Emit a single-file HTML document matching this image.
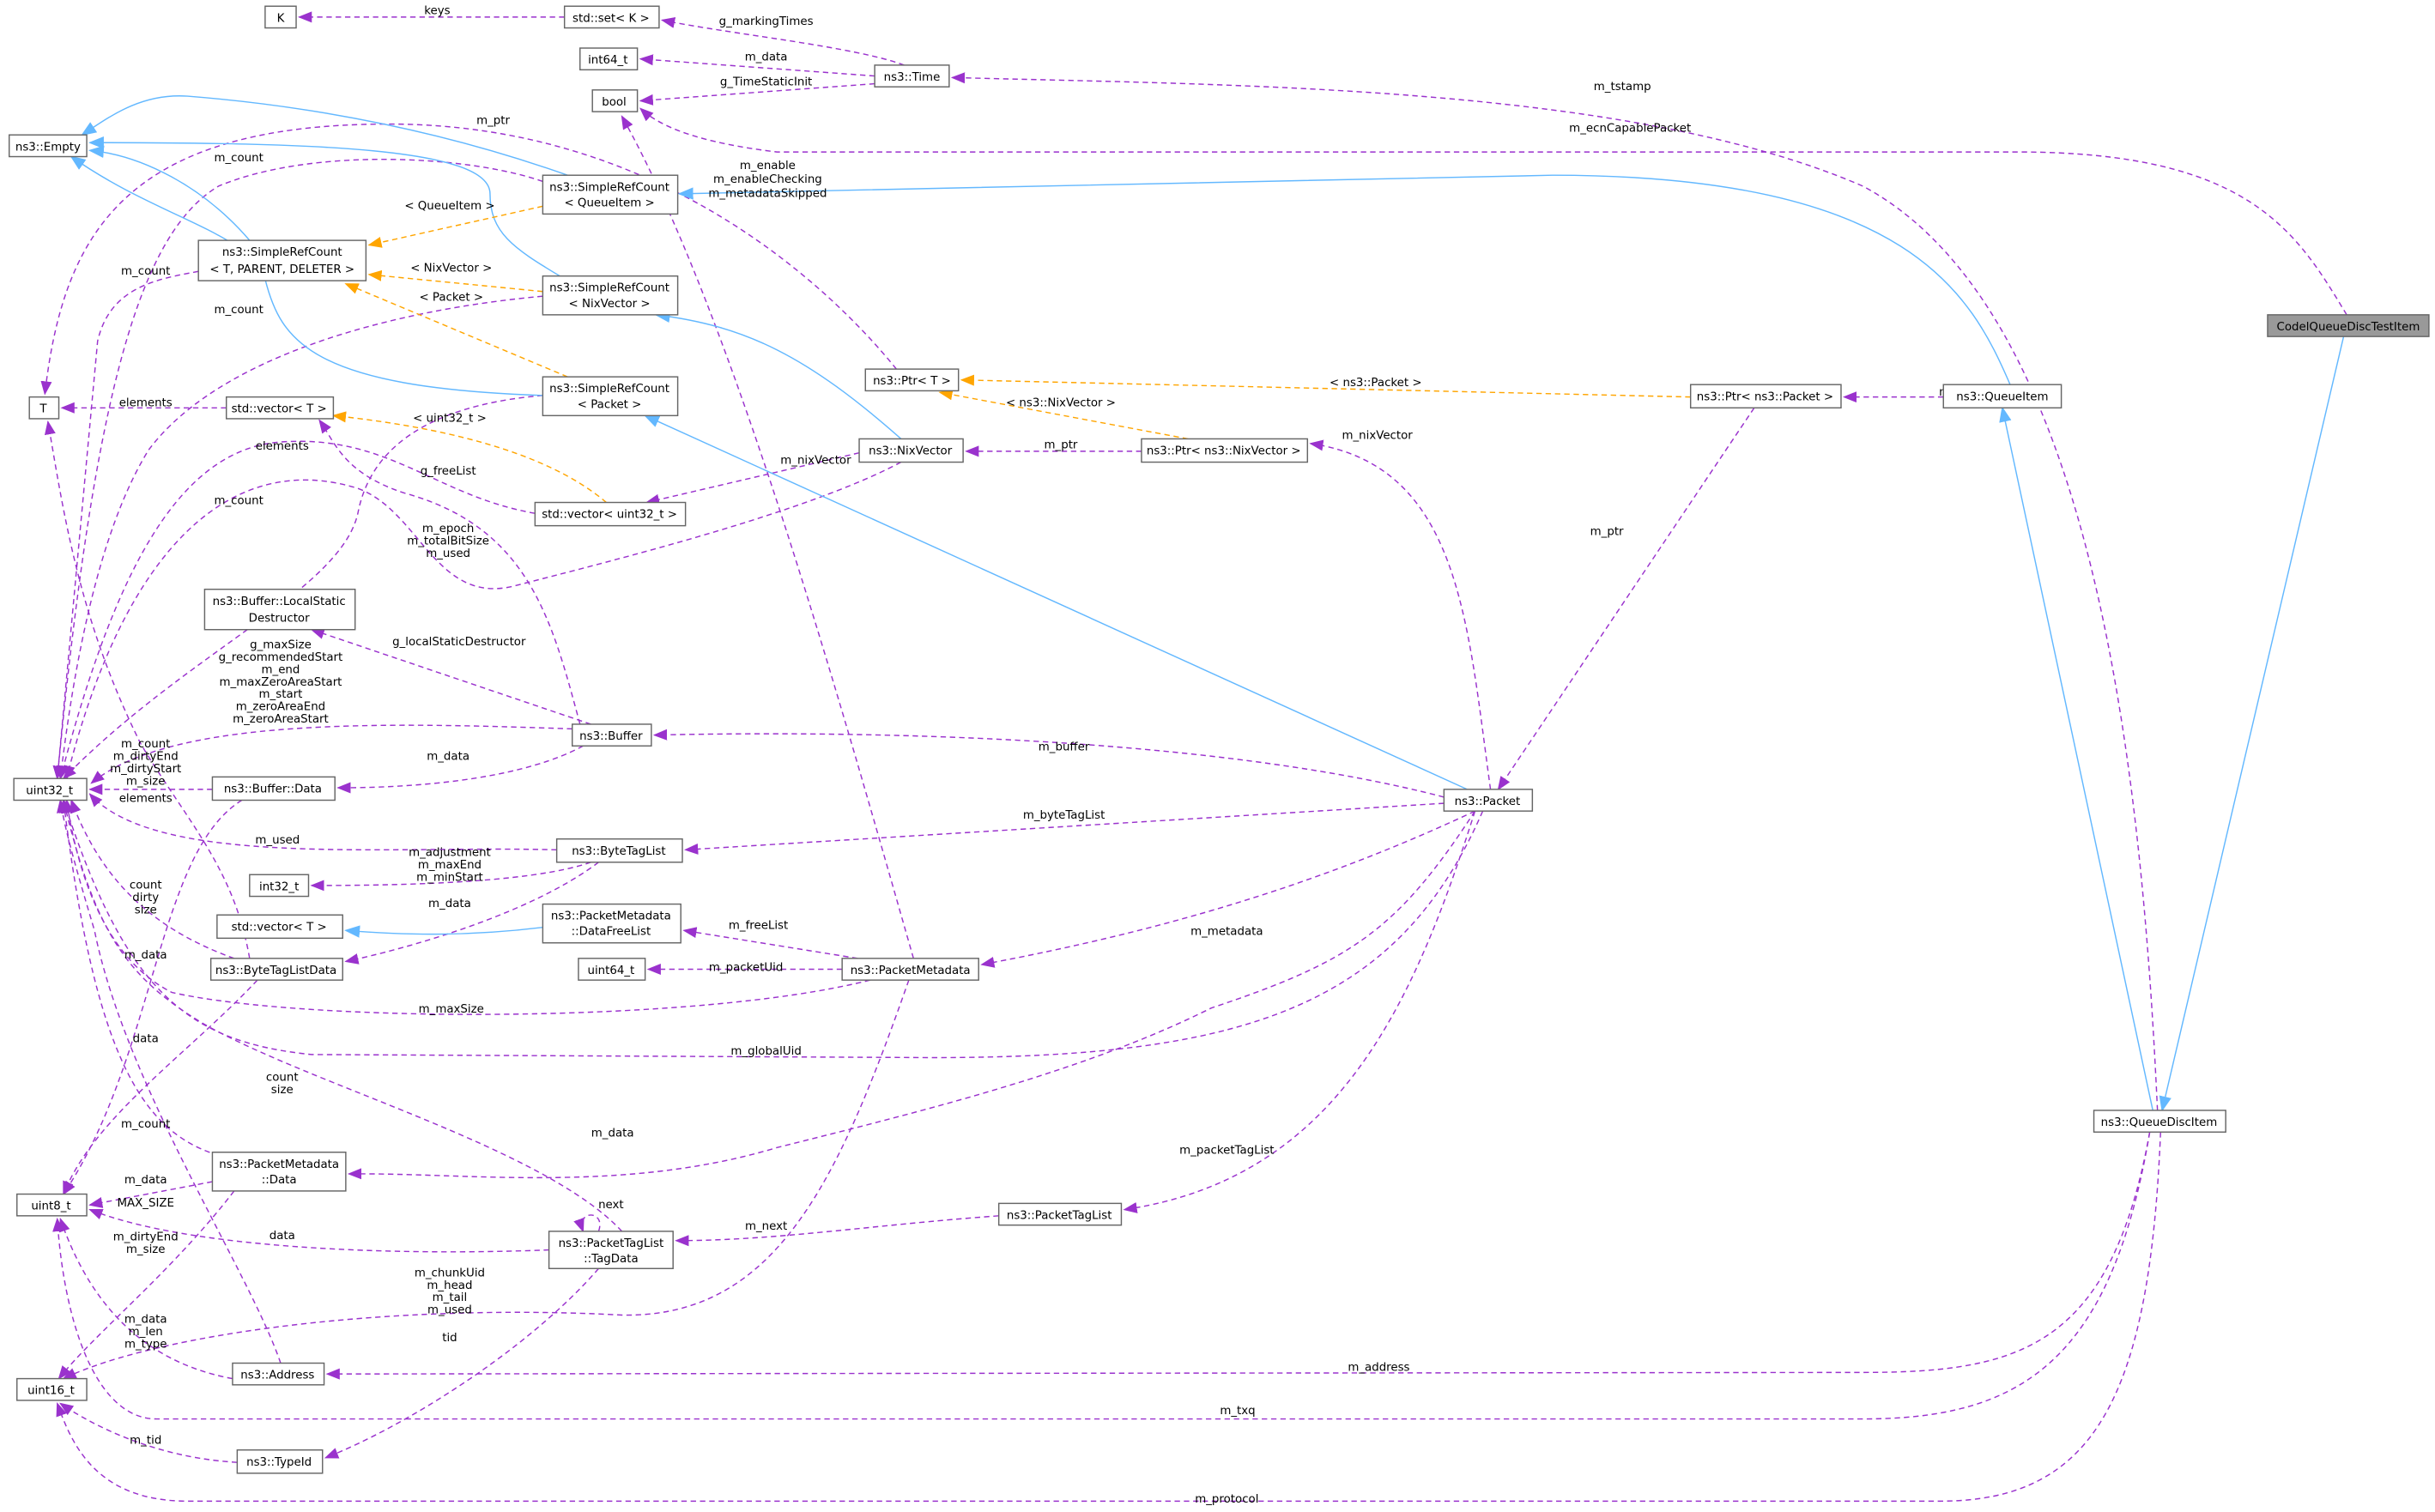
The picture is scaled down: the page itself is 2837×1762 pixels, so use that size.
<!DOCTYPE html>
<html><head><meta charset="utf-8"><style>
html,body{margin:0;padding:0;background:#fff;}
svg{display:block;}
text{font-family:"DejaVu Sans","Liberation Sans",sans-serif;font-size:7.4px;fill:#000;}
.n rect{fill:#fff;stroke:#666;stroke-width:0.8;}
.p{fill:none;stroke:#9a32cd;stroke-width:0.8;stroke-dasharray:3.5,2.5;}
.b{fill:none;stroke:#63b8ff;stroke-width:0.8;}
.o{fill:none;stroke:#ffa500;stroke-width:0.8;stroke-dasharray:3.5,2.5;}
</style></head><body>
<svg width="2837" height="1762" viewBox="0 0 1568 975" xmlns="http://www.w3.org/2000/svg">
<defs>
<marker id="mp" viewBox="0 0 10 10" refX="9" refY="5" markerWidth="9" markerHeight="9" orient="auto" markerUnits="userSpaceOnUse"><path d="M0,1 L10,5 L0,9 z" fill="#9a32cd"/></marker>
<marker id="mb" viewBox="0 0 10 10" refX="9" refY="5" markerWidth="10" markerHeight="10" orient="auto" markerUnits="userSpaceOnUse"><path d="M0,1 L10,5 L0,9 z" fill="#63b8ff"/></marker>
<marker id="mo" viewBox="0 0 10 10" refX="9" refY="5" markerWidth="9" markerHeight="9" orient="auto" markerUnits="userSpaceOnUse"><path d="M0,1 L10,5 L0,9 z" fill="#ffa500"/></marker>
</defs>

<g marker-end="url(#mp)">
<path class="p" d="M363,11 L192,11"/>
<path class="p" d="M582,42 C550,30 470,22 426,13"/>
<path class="p" d="M563,49 L412,38"/>
<path class="p" d="M563,54 L412,65"/>
<path class="p" d="M1512,203 C1480,150 1450,98 1300,98 L500,98 C450,92 425,82 412,70"/>
<path class="p" d="M1252,256 L1188,256"/>
<path class="p" d="M1130,263 L965,509"/>
<path class="p" d="M735,291 L622,291"/>
<path class="p" d="M960,509 C945,400 940,300 844,286"/>
<path class="p" d="M577,238 C530,180 420,80 250,80 C80,80 40,150 28,254"/>
<path class="p" d="M588,618 C540,450 470,200 400,75"/>
<path class="p" d="M553,292 L416,324"/>
<path class="p" d="M145,263 L39,263"/>
<path class="p" d="M127,175 C100,180 70,185 62,220 L36,502"/>
<path class="p" d="M349,117 C300,100 200,95 140,120 C90,150 60,250 36,502"/>
<path class="p" d="M349,191 C250,200 140,230 95,290 C70,330 50,400 38,502"/>
<path class="p" d="M349,255 C290,260 240,280 230,330 C220,380 120,420 40,502"/>
<path class="p" d="M344,331 C280,320 250,280 180,285 C110,290 70,380 38,502"/>
<path class="p" d="M580,298 C520,330 400,360 330,378 C280,390 270,330 230,315 C150,290 80,350 42,502"/>
<path class="p" d="M373,467 C355,400 340,340 260,318 C220,305 215,285 205,271"/>
<path class="p" d="M380,467 L200,406"/>
<path class="p" d="M368,470 C250,466 110,462 58,505"/>
<path class="p" d="M375,481 C340,500 280,508 217,508"/>
<path class="p" d="M136,509 L57,509"/>
<path class="p" d="M155,516 C100,550 100,680 40,770"/>
<path class="p" d="M930,514 C800,480 600,470 421,474"/>
<path class="p" d="M930,518 L441,548"/>
<path class="p" d="M358,548 C250,545 100,560 57,512"/>
<path class="p" d="M380,556 C340,570 250,571 200,571"/>
<path class="p" d="M385,556 C340,590 260,612 222,620"/>
<path class="p" d="M150,618 C100,600 65,570 45,516"/>
<path class="p" d="M165,632 C120,680 60,720 40,770"/>
<path class="p" d="M950,523 C850,570 750,600 632,622"/>
<path class="p" d="M552,618 L440,600"/>
<path class="p" d="M542,625 L417,625"/>
<path class="p" d="M560,632 C450,660 200,660 110,640 C70,620 50,570 42,516"/>
<path class="p" d="M955,523 C900,650 800,682 600,682 L200,680 C120,672 80,640 40,516"/>
<path class="p" d="M950,523 C900,600 870,620 780,650 C700,690 600,715 500,740 C400,770 300,756 224,757"/>
<path class="p" d="M140,745 C90,730 60,680 40,516"/>
<path class="p" d="M136,762 L57,777"/>
<path class="p" d="M150,768 C110,820 60,860 37,889"/>
<path class="p" d="M400,794 C350,740 200,700 130,660 C80,630 60,600 40,516"/>
<path class="p" d="M385,794 C390,780 370,780 375,794"/>
<path class="p" d="M643,784 C560,790 500,800 435,800"/>
<path class="p" d="M353,806 C250,810 120,805 57,780"/>
<path class="p" d="M385,818 C340,870 260,920 209,940"/>
<path class="p" d="M950,523 C910,650 860,760 724,780"/>
<path class="p" d="M585,632 C540,760 500,850 400,848 C250,840 100,860 40,889"/>
<path class="p" d="M149,889 C100,880 60,850 38,786"/>
<path class="p" d="M180,879 C160,820 80,700 60,600 C45,550 40,530 38,516"/>
<path class="p" d="M1385,730 C1360,870 1300,885 1200,885 L210,886"/>
<path class="p" d="M1385,730 C1360,880 1300,915 1200,915 L100,915 C60,915 40,850 36,786"/>
<path class="p" d="M1392,730 C1385,900 1350,968 1250,968 L120,968 C60,968 45,930 36,905"/>
<path class="p" d="M152,943 C100,940 60,920 38,905"/>
<path class="p" d="M1390,716 C1380,500 1350,200 1200,120 C1050,55 800,55 613,50"/>
<path class="p" d="M160,618 C150,560 120,530 90,480 C50,400 40,330 30,272"/>
</g>
<g marker-end="url(#mb)">
<path class="b" d="M1510,217 L1393,716"/>
<path class="b" d="M1295,248 C1270,190 1230,113 1000,113 L437,125"/>
<path class="b" d="M1387,716 L1290,263"/>
<path class="b" d="M365,113 C300,90 220,70 120,62 C90,60 70,75 52,87"/>
<path class="b" d="M160,155 C130,120 90,100 57,97"/>
<path class="b" d="M360,178 C330,160 315,150 315,125 C315,95 200,92 57,92"/>
<path class="b" d="M349,255 C200,250 180,220 170,180 C160,150 100,140 45,101"/>
<path class="b" d="M580,283 C520,230 480,210 422,203"/>
<path class="b" d="M945,509 L415,268"/>
<path class="b" d="M349,598 C300,604 260,603 222,600"/>
</g>
<g marker-end="url(#mo)">
<path class="o" d="M1089,256 L619,245"/>
<path class="o" d="M765,283 L605,253"/>
<path class="o" d="M349,133 L237,158"/>
<path class="o" d="M349,188 L237,177"/>
<path class="o" d="M365,243 L222,183"/>
<path class="o" d="M390,324 C350,290 280,275 214,268"/>
</g>

<g text-anchor="middle">
<text x="281" y="9">keys</text>
<text x="493" y="16">g_markingTimes</text>
<text x="493" y="39">m_data</text>
<text x="493" y="55">g_TimeStaticInit</text>
<text x="1050" y="85">m_ecnCapablePacket</text>
<text x="1045" y="58">m_tstamp</text>
<text x="317" y="80">m_ptr</text>
<text x="153" y="104">m_count</text>
<text x="494" y="109">m_enable</text>
<text x="494" y="118">m_enableChecking</text>
<text x="494" y="127">m_metadataSkipped</text>
<text x="289" y="135">&lt; QueueItem &gt;</text>
<text x="93" y="177">m_count</text>
<text x="290" y="175">&lt; NixVector &gt;</text>
<text x="290" y="194">&lt; Packet &gt;</text>
<text x="153" y="202">m_count</text>
<text x="886" y="249">&lt; ns3::Packet &gt;</text>
<text x="93" y="262">elements</text>
<text x="683" y="262">&lt; ns3::NixVector &gt;</text>
<text x="1267" y="255">m_packet</text>
<text x="289" y="272">&lt; uint32_t &gt;</text>
<text x="887" y="283">m_nixVector</text>
<text x="181" y="290">elements</text>
<text x="683" y="289">m_ptr</text>
<text x="525" y="299">m_nixVector</text>
<text x="288" y="306">g_freeList</text>
<text x="153" y="325">m_count</text>
<text x="1035" y="345">m_ptr</text>
<text x="288" y="343">m_epoch</text>
<text x="288" y="351">m_totalBitSize</text>
<text x="288" y="359">m_used</text>
<text x="295" y="416">g_localStaticDestructor</text>
<text x="180" y="418">g_maxSize</text>
<text x="180" y="426">g_recommendedStart</text>
<text x="180" y="434">m_end</text>
<text x="180" y="442">m_maxZeroAreaStart</text>
<text x="180" y="450">m_start</text>
<text x="180" y="458">m_zeroAreaEnd</text>
<text x="180" y="466">m_zeroAreaStart</text>
<text x="93" y="482">m_count</text>
<text x="93" y="490">m_dirtyEnd</text>
<text x="93" y="498">m_dirtyStart</text>
<text x="93" y="506">m_size</text>
<text x="93" y="517">elements</text>
<text x="685" y="484">m_buffer</text>
<text x="288" y="490">m_data</text>
<text x="685" y="528">m_byteTagList</text>
<text x="178" y="544">m_used</text>
<text x="289" y="552">m_adjustment</text>
<text x="289" y="560">m_maxEnd</text>
<text x="289" y="568">m_minStart</text>
<text x="93" y="573">count</text>
<text x="93" y="581">dirty</text>
<text x="93" y="589">size</text>
<text x="289" y="585">m_data</text>
<text x="790" y="603">m_metadata</text>
<text x="488" y="599">m_freeList</text>
<text x="93" y="618">m_data</text>
<text x="480" y="626">m_packetUid</text>
<text x="290" y="653">m_maxSize</text>
<text x="93" y="672">data</text>
<text x="493" y="680">m_globalUid</text>
<text x="181" y="697">count</text>
<text x="181" y="705">size</text>
<text x="93" y="727">m_count</text>
<text x="394" y="733">m_data</text>
<text x="790" y="744">m_packetTagList</text>
<text x="93" y="763">m_data</text>
<text x="93" y="778">MAX_SIZE</text>
<text x="393" y="779">next</text>
<text x="493" y="793">m_next</text>
<text x="181" y="799">data</text>
<text x="93" y="800">m_dirtyEnd</text>
<text x="93" y="808">m_size</text>
<text x="289" y="823">m_chunkUid</text>
<text x="289" y="831">m_head</text>
<text x="289" y="839">m_tail</text>
<text x="289" y="847">m_used</text>
<text x="93" y="853">m_data</text>
<text x="93" y="861">m_len</text>
<text x="93" y="869">m_type</text>
<text x="289" y="865">tid</text>
<text x="888" y="884">m_address</text>
<text x="797" y="912">m_txq</text>
<text x="93" y="931">m_tid</text>
<text x="790" y="969">m_protocol</text>
</g>

<g class="n" text-anchor="middle">
<rect x="170" y="4" width="20" height="14"/><text x="180" y="14">K</text>
<rect x="363" y="4" width="61" height="14"/><text x="393" y="14">std::set&lt; K &gt;</text>
<rect x="373" y="31" width="37" height="14"/><text x="391" y="41">int64_t</text>
<rect x="563" y="42" width="48" height="14"/><text x="587" y="52">ns3::Time</text>
<rect x="381" y="58" width="29" height="14"/><text x="395" y="68">bool</text>
<rect x="5" y="87" width="50" height="14"/><text x="30" y="97">ns3::Empty</text>
<rect x="349" y="113" width="87" height="25"/><text x="392" y="123">ns3::SimpleRefCount</text><text x="392" y="133">&lt; QueueItem &gt;</text>
<rect x="127" y="155" width="108" height="26"/><text x="181" y="165">ns3::SimpleRefCount</text><text x="181" y="176">&lt; T, PARENT, DELETER &gt;</text>
<rect x="349" y="178" width="87" height="25"/><text x="392" y="188">ns3::SimpleRefCount</text><text x="392" y="198">&lt; NixVector &gt;</text>
<rect x="1461" y="203" width="104" height="14" style="fill:#999;stroke:#666"/><text x="1513" y="213">CodelQueueDiscTestItem</text>
<rect x="557" y="238" width="60" height="14"/><text x="587" y="248">ns3::Ptr&lt; T &gt;</text>
<rect x="349" y="243" width="87" height="25"/><text x="392" y="253">ns3::SimpleRefCount</text><text x="392" y="263">&lt; Packet &gt;</text>
<rect x="1089" y="248" width="97" height="15"/><text x="1137" y="258">ns3::Ptr&lt; ns3::Packet &gt;</text>
<rect x="1252" y="248" width="76" height="15"/><text x="1290" y="258">ns3::QueueItem</text>
<rect x="18" y="256" width="19" height="14"/><text x="27" y="266">T</text>
<rect x="145" y="256" width="69" height="14"/><text x="179" y="266">std::vector&lt; T &gt;</text>
<rect x="553" y="283" width="67" height="15"/><text x="586" y="293">ns3::NixVector</text>
<rect x="735" y="283" width="107" height="15"/><text x="788" y="293">ns3::Ptr&lt; ns3::NixVector &gt;</text>
<rect x="344" y="324" width="97" height="15"/><text x="392" y="334">std::vector&lt; uint32_t &gt;</text>
<rect x="131" y="380" width="97" height="26"/><text x="179" y="390">ns3::Buffer::LocalStatic</text><text x="179" y="401">Destructor</text>
<rect x="368" y="467" width="51" height="14"/><text x="393" y="477">ns3::Buffer</text>
<rect x="8" y="502" width="47" height="14"/><text x="31" y="512">uint32_t</text>
<rect x="136" y="501" width="79" height="15"/><text x="175" y="511">ns3::Buffer::Data</text>
<rect x="930" y="509" width="57" height="14"/><text x="958" y="519">ns3::Packet</text>
<rect x="358" y="541" width="81" height="15"/><text x="398" y="551">ns3::ByteTagList</text>
<rect x="160" y="564" width="38" height="14"/><text x="179" y="574">int32_t</text>
<rect x="349" y="583" width="89" height="25"/><text x="393" y="593">ns3::PacketMetadata</text><text x="393" y="603">::DataFreeList</text>
<rect x="139" y="590" width="81" height="15"/><text x="179" y="600">std::vector&lt; T &gt;</text>
<rect x="372" y="618" width="43" height="14"/><text x="393" y="628">uint64_t</text>
<rect x="542" y="618" width="88" height="14"/><text x="586" y="628">ns3::PacketMetadata</text>
<rect x="135" y="618" width="85" height="14"/><text x="177" y="628">ns3::ByteTagListData</text>
<rect x="1349" y="716" width="85" height="14"/><text x="1391" y="726">ns3::QueueDiscItem</text>
<rect x="136" y="743" width="86" height="25"/><text x="179" y="753">ns3::PacketMetadata</text><text x="179" y="763">::Data</text>
<rect x="10" y="770" width="45" height="14"/><text x="32" y="780">uint8_t</text>
<rect x="643" y="776" width="79" height="14"/><text x="682" y="786">ns3::PacketTagList</text>
<rect x="353" y="794" width="80" height="24"/><text x="393" y="804">ns3::PacketTagList</text><text x="393" y="814">::TagData</text>
<rect x="149" y="879" width="59" height="14"/><text x="178" y="889">ns3::Address</text>
<rect x="10" y="889" width="45" height="14"/><text x="32" y="899">uint16_t</text>
<rect x="152" y="935" width="55" height="15"/><text x="179" y="945">ns3::TypeId</text>
</g>
</svg>
</body></html>
